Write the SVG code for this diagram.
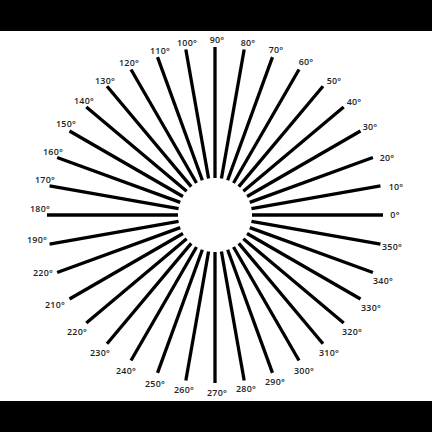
<svg xmlns="http://www.w3.org/2000/svg" width="432" height="432" viewBox="0 0 432 432">
<style>
.s{stroke:#000;stroke-width:3.3;stroke-linecap:butt}
.t{font-family:"Open Sans","Liberation Sans",sans-serif;font-weight:600;font-size:8.9px;fill:#222;text-anchor:middle;dominant-baseline:central;letter-spacing:0.2px}
</style>
<rect x="0" y="0" width="432" height="432" fill="#fff"/>
<rect x="0" y="0" width="432" height="31" fill="#000"/>
<rect x="0" y="401" width="432" height="31" fill="#000"/>
<g id="spokes">
<line class="s" x1="252" y1="215" x2="383" y2="215" transform="rotate(0 215 215)"/>
<line class="s" x1="252" y1="215" x2="383" y2="215" transform="rotate(-10 215 215)"/>
<line class="s" x1="252" y1="215" x2="383" y2="215" transform="rotate(-20 215 215)"/>
<line class="s" x1="252" y1="215" x2="383" y2="215" transform="rotate(-30 215 215)"/>
<line class="s" x1="252" y1="215" x2="383" y2="215" transform="rotate(-40 215 215)"/>
<line class="s" x1="252" y1="215" x2="383" y2="215" transform="rotate(-50 215 215)"/>
<line class="s" x1="252" y1="215" x2="383" y2="215" transform="rotate(-60 215 215)"/>
<line class="s" x1="252" y1="215" x2="383" y2="215" transform="rotate(-70 215 215)"/>
<line class="s" x1="252" y1="215" x2="383" y2="215" transform="rotate(-80 215 215)"/>
<line class="s" x1="252" y1="215" x2="383" y2="215" transform="rotate(-90 215 215)"/>
<line class="s" x1="252" y1="215" x2="383" y2="215" transform="rotate(-100 215 215)"/>
<line class="s" x1="252" y1="215" x2="383" y2="215" transform="rotate(-110 215 215)"/>
<line class="s" x1="252" y1="215" x2="383" y2="215" transform="rotate(-120 215 215)"/>
<line class="s" x1="252" y1="215" x2="383" y2="215" transform="rotate(-130 215 215)"/>
<line class="s" x1="252" y1="215" x2="383" y2="215" transform="rotate(-140 215 215)"/>
<line class="s" x1="252" y1="215" x2="383" y2="215" transform="rotate(-150 215 215)"/>
<line class="s" x1="252" y1="215" x2="383" y2="215" transform="rotate(-160 215 215)"/>
<line class="s" x1="252" y1="215" x2="383" y2="215" transform="rotate(-170 215 215)"/>
<line class="s" x1="252" y1="215" x2="383" y2="215" transform="rotate(-180 215 215)"/>
<line class="s" x1="252" y1="215" x2="383" y2="215" transform="rotate(-190 215 215)"/>
<line class="s" x1="252" y1="215" x2="383" y2="215" transform="rotate(-200 215 215)"/>
<line class="s" x1="252" y1="215" x2="383" y2="215" transform="rotate(-210 215 215)"/>
<line class="s" x1="252" y1="215" x2="383" y2="215" transform="rotate(-220 215 215)"/>
<line class="s" x1="252" y1="215" x2="383" y2="215" transform="rotate(-230 215 215)"/>
<line class="s" x1="252" y1="215" x2="383" y2="215" transform="rotate(-240 215 215)"/>
<line class="s" x1="252" y1="215" x2="383" y2="215" transform="rotate(-250 215 215)"/>
<line class="s" x1="252" y1="215" x2="383" y2="215" transform="rotate(-260 215 215)"/>
<line class="s" x1="252" y1="215" x2="383" y2="215" transform="rotate(-270 215 215)"/>
<line class="s" x1="252" y1="215" x2="383" y2="215" transform="rotate(-280 215 215)"/>
<line class="s" x1="252" y1="215" x2="383" y2="215" transform="rotate(-290 215 215)"/>
<line class="s" x1="252" y1="215" x2="383" y2="215" transform="rotate(-300 215 215)"/>
<line class="s" x1="252" y1="215" x2="383" y2="215" transform="rotate(-310 215 215)"/>
<line class="s" x1="252" y1="215" x2="383" y2="215" transform="rotate(-320 215 215)"/>
<line class="s" x1="252" y1="215" x2="383" y2="215" transform="rotate(-330 215 215)"/>
<line class="s" x1="252" y1="215" x2="383" y2="215" transform="rotate(-340 215 215)"/>
<line class="s" x1="252" y1="215" x2="383" y2="215" transform="rotate(-350 215 215)"/>
</g>
<g id="labels">
<text class="t" x="395" y="214">0°</text>
<text class="t" x="396" y="186">10°</text>
<text class="t" x="387" y="157">20°</text>
<text class="t" x="370" y="126">30°</text>
<text class="t" x="354" y="101">40°</text>
<text class="t" x="334" y="80">50°</text>
<text class="t" x="306" y="61">60°</text>
<text class="t" x="276" y="49">70°</text>
<text class="t" x="248" y="42">80°</text>
<text class="t" x="217" y="39">90°</text>
<text class="t" x="187" y="42">100°</text>
<text class="t" x="160" y="50">110°</text>
<text class="t" x="129" y="62">120°</text>
<text class="t" x="105" y="80">130°</text>
<text class="t" x="84" y="100">140°</text>
<text class="t" x="66" y="123">150°</text>
<text class="t" x="53" y="151">160°</text>
<text class="t" x="45" y="179">170°</text>
<text class="t" x="40" y="208">180°</text>
<text class="t" x="37" y="239">190°</text>
<text class="t" x="43" y="272">220°</text>
<text class="t" x="55" y="304">210°</text>
<text class="t" x="77" y="331">220°</text>
<text class="t" x="100" y="352">230°</text>
<text class="t" x="126" y="370">240°</text>
<text class="t" x="155" y="383">250°</text>
<text class="t" x="184" y="389">260°</text>
<text class="t" x="217" y="392">270°</text>
<text class="t" x="246" y="388">280°</text>
<text class="t" x="275" y="381">290°</text>
<text class="t" x="304" y="370">300°</text>
<text class="t" x="329" y="352">310°</text>
<text class="t" x="352" y="331">320°</text>
<text class="t" x="371" y="307">330°</text>
<text class="t" x="383" y="280">340°</text>
<text class="t" x="392" y="246">350°</text>
</g>
</svg>
